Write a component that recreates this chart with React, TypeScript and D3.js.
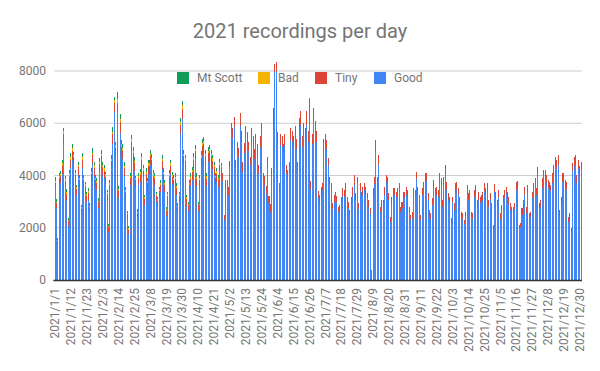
import React from "react";
import * as d3 from "d3";

// ---- data ----
const days = d3.timeDay.range(new Date(2021, 0, 1), new Date(2022, 0, 1));
const fmt = d3.timeFormat("%Y/%-m/%-d");
const categories: string[] = days.map((d) => fmt(d));
const tickStep = 11;
const yTicks = [0, 2000, 4000, 6000, 8000];

const good = [
  3470,2740,1350,3660,3710,4070,5240,3550,3080,2060,
  3720,4270,4600,4390,3750,3240,4010,3570,2530,4290,
  3560,3340,2990,3080,2590,3780,4450,4000,3570,3460,
  2750,4140,4410,4020,3910,3690,3050,1850,3400,4240,
  5200,6430,4720,6410,3140,5630,4760,4630,3990,3120,
  2310,1760,3630,4920,4530,4170,3550,2360,3630,3750,
  4300,3900,2860,3770,3440,4070,4410,4270,3710,3620,
  2980,2800,3140,3380,4240,3780,3380,2450,2970,3710,
  4070,3660,3560,3610,3270,2580,2970,5570,6160,4420,
  4240,2850,2640,3380,3590,3830,4290,4580,3590,2640,
  3540,4350,4760,4850,4400,3600,4500,4570,4400,4250,
  4010,3620,3770,3560,4090,4010,
  3780,2290,3430,3480,3270,
  4250,5620,5450,5850,4300,4850,4700,5880,5300,4150,
  4850,5450,5250,4950,4400,5300,5050,4650,5200,4800,
  4050,5100,5500,3800,3650,3300,4300,2950,2600,3950,
  5950,7950,8000,5250,3400,5150,5100,4850,5150,4050,
  3900,4150,5350,5300,5100,5400,5000,4200,5750,5950,
  5100,5500,5350,5950,5300,6400,3500,5200,6100,5650,
  5300,3150,3000,3270,3450,4980,5140,5010,4360,3660,
  3450,2730,3000,3180,2970,2600,2620,2990,3210,3190,
  3350,2990,2750,2480,2890,3220,3620,3070,3660,2730,
  3400,3130,3270,3450,3270,3120,2810,2540,330,3160,
  3660,4910,3460,4390,2600,2810,2860,3270,3770,3660,
  3070,2220,2940,3210,3260,3180,3260,3400,2600,2750,
  3130,3130,3270,3190,2600,2290,2370,3210,3190,3850,
  3270,3000,2290,3260,3460,3760,3780,3070,2480,2350,
  2880,3530,3260,3270,3190,3730,3590,2810,3660,4050,
  3460,3070,2940,2160,2990,2680,3400,3460,3260,2940,
  2420,2350,2150,2420,3340,3070,3140,2420,2350,3190,
  3340,2810,3080,2940,3000,3080,3400,3260,3400,2810,
  3070,2680,1950,3370,3130,2810,3190,2350,2620,3000,
  3140,3320,3130,2890,2680,2600,2550,2730,3460,3500,
  1950,2020,2490,2760,3270,2550,3340,2350,2420,3130,
  3400,3590,3260,3990,2680,2810,3540,3910,3860,3720,
  3530,3460,3390,3730,4050,4320,4250,4390,2430,2940,
  3760,3810,3530,3460,2220,2300,1830,4170,4370,4390,
  3720,4250,4060,4200,
];

const tiny = [
  250,200,150,250,260,300,350,250,230,180,
  280,330,350,300,270,240,300,260,200,320,
  260,250,230,240,200,280,330,300,260,250,
  220,300,320,290,280,270,230,170,250,310,
  370,350,330,380,250,400,330,320,290,240,
  200,170,270,350,320,300,260,200,270,280,
  310,290,230,280,260,300,320,310,280,270,
  240,230,250,260,310,280,260,210,240,280,
  300,280,270,270,250,210,240,370,400,320,
  320,240,220,260,280,290,320,340,280,220,
  280,330,360,370,340,280,350,350,340,320,
  310,280,300,280,320,300,
  300,200,400,350,300,
  300,380,350,400,300,450,350,500,400,350,
  400,450,400,350,300,500,450,350,400,400,
  350,400,500,300,350,300,400,250,300,350,
  650,300,350,400,300,450,400,350,450,350,
  300,350,450,400,400,500,400,300,450,500,
  400,500,450,500,400,550,300,400,500,450,
  400,250,250,300,250,400,450,350,300,300,
  250,200,250,200,250,200,250,200,300,250,
  350,200,250,200,300,350,400,250,300,200,
  300,250,300,250,300,200,250,200,50,350,
  300,450,500,400,200,250,200,300,250,300,
  250,200,250,300,250,200,250,300,200,250,
  250,250,300,250,200,200,250,300,250,300,
  300,250,200,250,300,350,300,250,200,200,
  250,300,250,300,250,350,300,250,300,350,
  300,250,250,200,200,250,300,300,250,250,
  200,200,150,200,300,250,300,200,200,250,
  300,250,300,250,250,300,300,250,300,250,
  250,250,150,300,250,250,250,200,250,250,
  300,250,250,300,250,200,250,200,300,300,
  150,150,250,300,300,250,300,200,200,250,
  300,300,250,350,250,250,350,300,350,300,
  300,300,250,350,350,400,350,400,250,250,
  350,300,300,300,200,250,150,300,350,400,
  300,350,300,300,
];

// Jan 1 - Apr 26; zero afterwards
const bad = [
  80,60,40,80,80,90,100,80,70,50,
  80,100,100,90,80,70,90,80,60,100,
  80,70,70,80,60,90,100,90,80,80,
  70,90,100,90,90,80,70,50,80,100,
  110,100,100,130,80,120,100,100,90,80,
  60,50,80,110,100,90,80,60,80,90,
  100,90,70,90,80,90,100,100,90,80,
  70,70,80,80,100,90,80,60,70,90,
  90,90,80,80,80,60,70,110,120,100,
  100,70,60,80,90,90,100,100,90,60,
  90,100,110,110,100,90,100,100,100,90,
  90,80,90,80,90,70,
];

const mtScott = [
  130,90,60,110,120,140,110,100,90,70,
  120,150,140,120,100,90,130,110,80,140,
  120,100,90,110,80,120,160,140,110,100,
  90,130,150,130,120,110,90,70,100,140,
  170,120,150,260,130,200,160,150,130,110,
  80,70,120,170,150,140,110,80,120,130,
  140,120,90,130,110,140,150,140,120,110,
  90,90,100,110,140,120,110,80,100,120,
  140,120,110,120,100,80,100,150,170,140,
  130,90,80,110,120,130,140,150,120,80,
  110,140,150,160,140,110,150,150,140,130,
  120,100,110,100,120,90,
];

const seriesKeys = ["good", "tiny", "bad", "mtScott"];
const seriesNames: Record<string, string> = { good: "Good", tiny: "Tiny", bad: "Bad", mtScott: "Mt Scott" };
const seriesColors: Record<string, string> = { good: "#4285f4", tiny: "#db4437", bad: "#f4b400", mtScott: "#0f9d58" };
const legendOrder = ["mtScott", "bad", "tiny", "good"];

export default function App() {
  const W = 600, H = 371;
  const left = 54.3, right = 582, top = 71, bottom = 280;
  const font = "Roboto, Arial, sans-serif";
  const grey = "#757575";

  const x = d3.scaleBand<string>().domain(categories).range([left, right]).paddingInner(0.3).paddingOuter(0.15);
  const y = d3.scaleLinear().domain([0, 8000]).range([bottom, top]);

  const rows = categories.map((c, i) => ({
    cat: c,
    good: good[i] ?? 0,
    tiny: tiny[i] ?? 0,
    bad: bad[i] ?? 0,
    mtScott: mtScott[i] ?? 0,
  }));
  const stacked = d3.stack<any>().keys(seriesKeys)(rows);

  const legendX = [177, 258, 315, 374];

  return (
    <svg width={W} height={H} style={{ position: "absolute", left: 0, top: 0, background: "#fff" }} fontFamily={font}>
      <rect width={W} height={H} fill="#fff" />
      <text x={300} y={38} textAnchor="middle" fontSize={20} fill={grey}>2021 recordings per day</text>

      {yTicks.map((t) => (
        <g key={t}>
          {t !== 0 && <line x1={left} x2={right} y1={y(t)} y2={y(t)} stroke="#cccccc" strokeWidth={1} />}
          <text x={46} y={y(t)} dy="0.35em" textAnchor="end" fontSize={12} fill={grey}>{t}</text>
        </g>
      ))}

      {stacked.map((layer) => (
        <g key={layer.key} fill={seriesColors[layer.key]} shapeRendering="crispEdges">
          {layer.map((d, i) => {
            const h = y(d[0]) - y(d[1]);
            if (h <= 0) return null;
            return <rect key={i} x={x(categories[i])} y={y(d[1])} width={x.bandwidth()} height={h} />;
          })}
        </g>
      ))}

      <line x1={left - 1} x2={right} y1={bottom + 0.5} y2={bottom + 0.5} stroke="#333" strokeWidth={1.5} />

      {categories.map((c, i) =>
        i % tickStep === 0 ? (
          <text key={c} transform={`translate(${(x(c) as number) + x.bandwidth() / 2},288) rotate(-90)`} dy="0.35em" textAnchor="end" fontSize={12} fill={grey}>{c}</text>
        ) : null
      )}

      {legendOrder.map((k, i) => (
        <g key={k} transform={`translate(${legendX[i]},72)`}>
          <rect width={12} height={12} fill={seriesColors[k]} />
          <text x={20} y={6} dy="0.35em" fontSize={12} fill={grey}>{seriesNames[k]}</text>
        </g>
      ))}
    </svg>
  );
}
